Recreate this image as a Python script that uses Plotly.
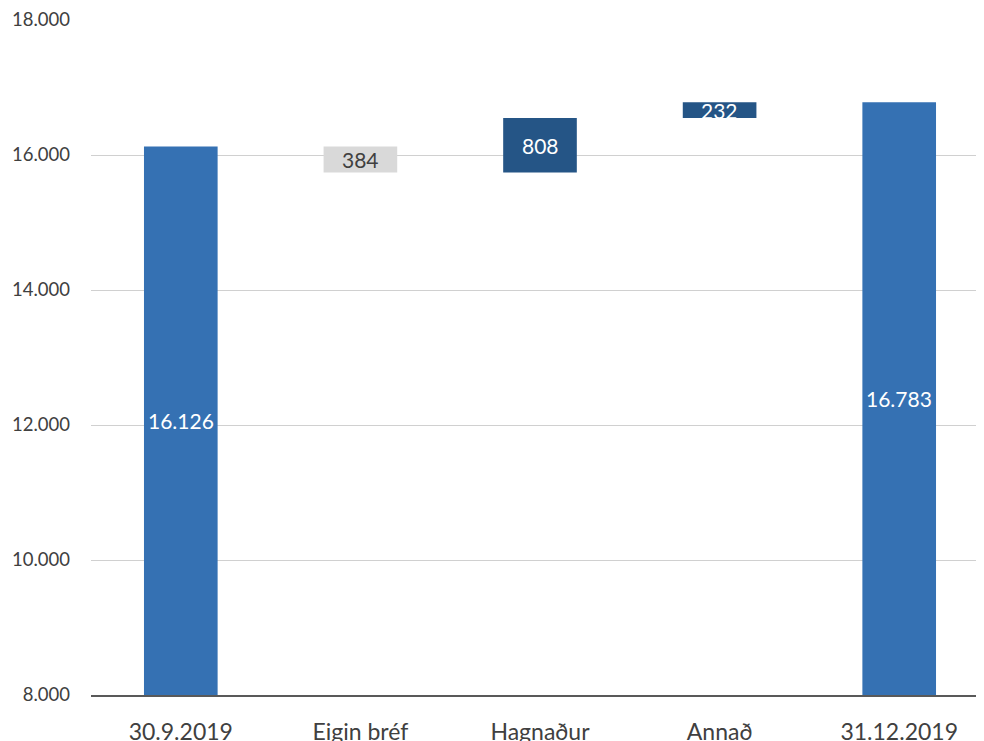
import plotly.graph_objects as go

categories = ["30.9.2019", "Eigin bréf", "Hagnaður", "Annað", "31.12.2019"]
measures = ["absolute", "relative", "relative", "relative", "absolute"]
values = [16126, -384, 808, 232, 16783]
labels = ["16.126", "384", "808", "232", "16.783"]
y_ticks = [8000, 10000, 12000, 14000, 16000, 18000]
y_range = [8000, 18000]

FONT = "Lato"
C_INC = "#255586"
C_DEC = "#d9d9d9"
C_TOT = "#3571b3"

fig = go.Figure(go.Waterfall(
    x=categories,
    measure=measures,
    y=values,
    increasing=dict(marker=dict(color=C_INC)),
    decreasing=dict(marker=dict(color=C_DEC)),
    totals=dict(marker=dict(color=C_TOT)),
    connector=dict(visible=False),
    width=0.41,
    hoverinfo="skip",
))

# label positions: centre of the visible part of each bar
running = 0
for cat, m, v, lab in zip(categories, measures, values, labels):
    if m == "absolute":
        lo, hi = max(y_range[0], 0), v
        running = v
        color = "white"
    else:
        lo, hi = running, running + v
        running += v
        color = "white" if v > 0 else "#404040"
    fig.add_annotation(
        x=cat, y=(lo + hi) / 2, text=lab, showarrow=False,
        font=dict(family=FONT, size=21, color=color),
        xanchor="center", yanchor="middle",
    )

# page body adds an ~8px offset; compensate so the plot area sits where the reference has it
fig.update_layout(
    width=1000, height=733,
    margin=dict(l=83, r=19, t=12, b=46),
    plot_bgcolor="white", paper_bgcolor="white",
    separators=",.",
    showlegend=False,
    font=dict(family=FONT, color="#404040"),
)
fig.update_yaxes(
    range=y_range, tickvals=y_ticks, tickformat=",.0f",
    showgrid=True, gridcolor="#d0d0d0", gridwidth=1,
    zeroline=False, showline=False, ticks="",
    tickfont=dict(family=FONT, size=18.5, color="#404040"),
    ticklabelstandoff=20, automargin=False,
)
fig.update_xaxes(
    showline=True, linecolor="#595959", linewidth=2,
    ticks="", tickfont=dict(family=FONT, size=23, color="#404040"),
    ticklabelstandoff=15, automargin=False,
)

fig.write_html("out.html")
